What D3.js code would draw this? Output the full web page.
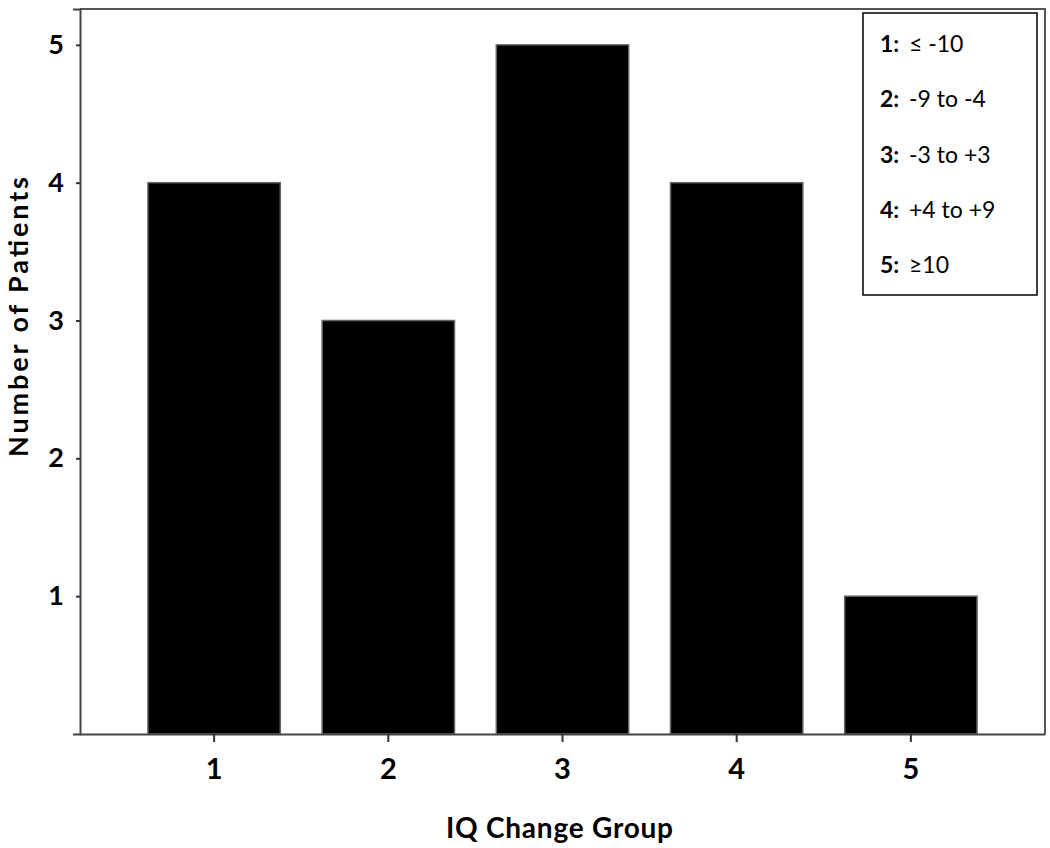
<!DOCTYPE html>
<html>
<head>
<meta charset="utf-8">
<script src="https://cdn.jsdelivr.net/npm/d3@7"></script>
<style>
  body { margin: 0; background: #fff; }
  text { font-family: Lato, "Open Sans", sans-serif; }
</style>
</head>
<body>
<div id="chart"></div>
<script>
// data
var groups = ["1", "2", "3", "4", "5"];
var patients = [4, 3, 5, 4, 1];
var yTicks = [1, 2, 3, 4, 5];
var legendKeys = ["1:", "2:", "3:", "4:", "5:"];
var legendRanges = ["\u2264 -10", "-9 to -4", "-3 to +3", "+4 to +9", "\u226510"];

var svgWidth = 1050;
var svgHeight = 848;

var margin = { top: 9, right: 5, bottom: 114, left: 80 };
var width = svgWidth - margin.left - margin.right;
var height = svgHeight - margin.top - margin.bottom;

var svg = d3.select("#chart")
  .append("svg")
  .attr("width", svgWidth)
  .attr("height", svgHeight);

var chartGroup = svg.append("g")
  .attr("transform", `translate(${margin.left}, ${margin.top})`);

var xScale = d3.scaleBand()
  .domain(groups)
  .range([0, width])
  .paddingInner(0.24)
  .paddingOuter(0.39);

// zero sits at the axis, 5 near the top
var yScale = d3.scaleLinear()
  .domain([0, 5.26])
  .range([height, 0]);

// frame top + right
chartGroup.append("path")
  .attr("d", `M0,0H${width}V${height}`)
  .attr("fill", "none")
  .attr("stroke", "#555")
  .attr("stroke-width", 2);

// bars
chartGroup.selectAll(".bar")
  .data(patients)
  .enter()
  .append("rect")
  .attr("class", "bar")
  .attr("x", (d, i) => xScale(groups[i]))
  .attr("y", d => yScale(d))
  .attr("width", xScale.bandwidth())
  .attr("height", d => height - yScale(d))
  .attr("fill", "#000")
  .attr("stroke", "#666")
  .attr("stroke-width", 1.5);

// x axis
var xAxis = chartGroup.append("g")
  .attr("transform", `translate(0, ${height})`)
  .call(d3.axisBottom(xScale).tickSize(8).tickSizeOuter(0).tickPadding(16));

// y axis
var yAxis = chartGroup.append("g")
  .call(d3.axisLeft(yScale).tickValues(yTicks).tickFormat(d3.format("d"))
    .tickSize(4).tickSizeOuter(7).tickPadding(12));

[xAxis, yAxis].forEach(function(ax) {
  ax.select(".domain").attr("stroke", "#444").attr("stroke-width", 2);
  ax.selectAll(".tick line").attr("stroke", "#333").attr("stroke-width", 2);
  ax.selectAll(".tick text")
    .attr("fill", "#000")
    .attr("font-weight", "bold")
    .style("font-family", "Lato, sans-serif");
});
xAxis.selectAll(".tick text").attr("font-size", "29px");
yAxis.selectAll(".tick text").attr("font-size", "27px");

// axis titles
chartGroup.append("text")
  .attr("x", width * 0.5 - 3)
  .attr("y", height + 104)
  .attr("text-anchor", "middle")
  .attr("font-size", "28px")
  .attr("font-weight", "bold")
  .attr("textLength", 227)
  .text("IQ Change Group");

chartGroup.append("text")
  .attr("transform", "rotate(-90)")
  .attr("x", -(317 - margin.top))
  .attr("y", -52)
  .attr("text-anchor", "middle")
  .attr("font-size", "27px")
  .attr("font-weight", "bold")
  .attr("textLength", 280)
  .text("Number of Patients");

// legend
var legend = svg.append("g")
  .attr("transform", "translate(863, 13)");

legend.append("rect")
  .attr("width", 174)
  .attr("height", 282)
  .attr("fill", "#fff")
  .attr("stroke", "#000")
  .attr("stroke-width", 1.5);

var rows = legend.selectAll(".row")
  .data(legendKeys)
  .enter()
  .append("g")
  .attr("transform", (d, i) => `translate(0, ${39 + i * 55.3})`);

rows.append("text")
  .attr("x", 17)
  .attr("font-size", "23px")
  .attr("font-weight", "bold")
  .text(d => d);

rows.append("text")
  .attr("x", 46)
  .attr("font-size", "23px")
  .text((d, i) => legendRanges[i]);
</script>
</body>
</html>
